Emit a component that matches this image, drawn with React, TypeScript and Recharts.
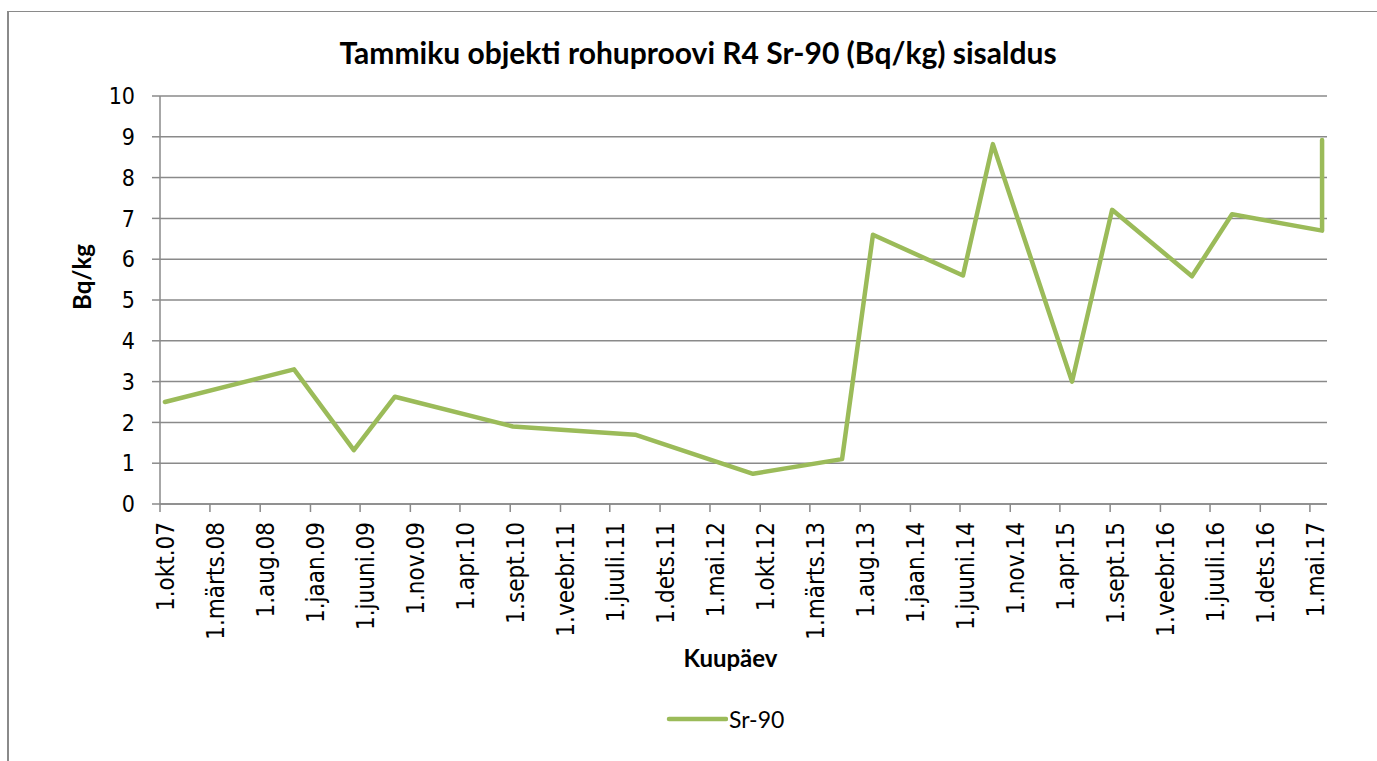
/** Sr-90 content in grass sample R4 at Tammiku, line chart over sampling dates */

import {
	CartesianGrid,
	Legend,
	Line,
	LineChart,
	XAxis,
	YAxis,
} from "recharts";

// sampling dates and measured Sr-90 values (Bq/kg)
const sampleDates = [
	"2007-10-16",
	"2008-11-12",
	"2009-05-13",
	"2009-09-15",
	"2010-09-09",
	"2011-09-16",
	"2012-09-09",
	"2013-06-07",
	"2013-09-09",
	"2014-06-10",
	"2014-09-09",
	"2015-05-08",
	"2015-09-07",
	"2016-05-07",
	"2016-09-06",
	"2017-06-07",
	"2017-06-07",
];
const sr90Values = [
	2.5, 3.3, 1.32, 2.63, 1.9, 1.7, 0.74, 1.1, 6.6, 5.6, 8.82, 3.0, 7.21, 5.58,
	7.1, 6.7, 8.92,
];

// x axis ticks (every 5 months) and their Estonian labels
const tickDates = [
	"2007-10-01", "2008-03-01", "2008-08-01", "2009-01-01", "2009-06-01",
	"2009-11-01", "2010-04-01", "2010-09-01", "2011-02-01", "2011-07-01",
	"2011-12-01", "2012-05-01", "2012-10-01", "2013-03-01", "2013-08-01",
	"2014-01-01", "2014-06-01", "2014-11-01", "2015-04-01", "2015-09-01",
	"2016-02-01", "2016-07-01", "2016-12-01", "2017-05-01",
];
const tickLabels = [
	"1.okt.07", "1.märts.08", "1.aug.08", "1.jaan.09", "1.juuni.09",
	"1.nov.09", "1.apr.10", "1.sept.10", "1.veebr.11", "1.juuli.11",
	"1.dets.11", "1.mai.12", "1.okt.12", "1.märts.13", "1.aug.13",
	"1.jaan.14", "1.juuni.14", "1.nov.14", "1.apr.15", "1.sept.15",
	"1.veebr.16", "1.juuli.16", "1.dets.16", "1.mai.17",
];
const axisStart = "2007-10-01";
const axisEnd = "2017-06-22";
const yTicks = [0, 1, 2, 3, 4, 5, 6, 7, 8, 9, 10];

const GRID = "#8a8a8a";
const GREEN = "#9BBB59";
const TICK_FONT = '"DejaVu Sans Condensed", "DejaVu Sans", sans-serif';

const tickTimes = tickDates.map((d) => Date.parse(d));

const chartData = sampleDates.map((d, i) => ({
	t: Date.parse(d),
	sr90: sr90Values[i],
}));

function DateTick(props: any) {
	const { x, y, payload } = props;
	const idx = tickTimes.indexOf(payload.value);
	return (
		<text
			x={x}
			y={y}
			dy={14}
			transform={`rotate(-90 ${x} ${y})`}
			textAnchor="end"
			fontFamily={TICK_FONT}
			fontSize={24}
			fill="#000"
		>
			{idx >= 0 ? tickLabels[idx] : ""}
		</text>
	);
}

function renderLegend(props: any) {
	const item = props.payload && props.payload[0];
	return (
		<div
			style={{
				display: "flex",
				alignItems: "center",
				height: 30,
				marginLeft: 666,
				fontFamily: "Lato, sans-serif",
				fontSize: 23,
				color: "#000",
			}}
		>
			<svg width={62} height={10}>
				<line
					x1={3}
					y1={5}
					x2={60}
					y2={5}
					stroke={item ? item.color : GREEN}
					strokeWidth={4.5}
					strokeLinecap="round"
				/>
			</svg>
			<span style={{ marginLeft: 1 }}>{item ? item.value : "Sr-90"}</span>
		</div>
	);
}

export default function App(): React.ReactElement {
	return (
		<div
			style={{
				position: "absolute",
				left: 0,
				top: 0,
				width: 1377,
				height: 761,
				background: "#fff",
				overflow: "hidden",
			}}
		>
			<div
				style={{
					position: "absolute",
					left: 7,
					top: 11,
					width: 1400,
					height: 800,
					borderLeft: `2px solid ${GRID}`,
					borderTop: `1.5px solid ${GRID}`,
				}}
			/>
			<div
				style={{
					position: "absolute",
					left: 0,
					top: 34,
					width: 1396,
					textAlign: "center",
					fontFamily: "Lato, sans-serif",
					fontWeight: 700,
					fontSize: 30,
					lineHeight: "36px",
					color: "#000",
				}}
			>
				Tammiku objekti rohuproovi R4 Sr-90 (Bq/kg) sisaldus
			</div>
			<div style={{ position: "absolute", left: 0, top: 0 }}>
				<LineChart
					width={1377}
					height={761}
					data={chartData}
					margin={{ top: 96, right: 50, left: 60, bottom: 52 }}
				>
					<CartesianGrid
						vertical={false}
						stroke={GRID}
						strokeWidth={1.5}
					/>
					<XAxis
						dataKey="t"
						type="number"
						domain={[Date.parse(axisStart), Date.parse(axisEnd)]}
						ticks={tickTimes}
						interval={0}
						height={175}
						tick={<DateTick />}
						tickSize={8}
						tickMargin={10}
						axisLine={{ stroke: GRID, strokeWidth: 1.5 }}
						tickLine={{ stroke: GRID, strokeWidth: 1.5 }}
						label={{
							content: (p: any) => {
								const vb = p.viewBox;
								return (
									<text
										x={vb.x + vb.width / 2 - 13}
										y={vb.y + 163}
										textAnchor="middle"
										fontFamily="Lato, sans-serif"
										fontWeight={700}
										fontSize={24}
										fill="#000"
									>
										Kuupäev
									</text>
								);
							},
						}}
					/>
					<YAxis
						type="number"
						domain={[0, 10]}
						ticks={yTicks}
						interval={0}
						width={100}
						tickSize={8}
						tickMargin={17}
						tick={{ fontFamily: TICK_FONT, fontSize: 23, fill: "#000" }}
						axisLine={{ stroke: GRID, strokeWidth: 1.5 }}
						tickLine={{ stroke: GRID, strokeWidth: 1.5 }}
						label={{
							content: (p: any) => {
								const vb = p.viewBox;
								const cx = vb.x + 21;
								const cy = vb.y + vb.height / 2 - 23;
								return (
									<text
										x={cx}
										y={cy}
										transform={`rotate(-90 ${cx} ${cy})`}
										textAnchor="middle"
										dominantBaseline="central"
										fontFamily="Lato, sans-serif"
										fontWeight={700}
										fontSize={24}
										fill="#000"
									>
										Bq/kg
									</text>
								);
							},
						}}
					/>
					<Legend
						verticalAlign="bottom"
						content={renderLegend}
						wrapperStyle={{ left: 0, width: 1377, bottom: 27 }}
					/>
					<Line
						type="linear"
						dataKey="sr90"
						name="Sr-90"
						stroke={GREEN}
						strokeWidth={4.5}
						strokeLinecap="round"
						strokeLinejoin="round"
						dot={false}
						activeDot={false}
						isAnimationActive={false}
					/>
				</LineChart>
			</div>
		</div>
	);
}
